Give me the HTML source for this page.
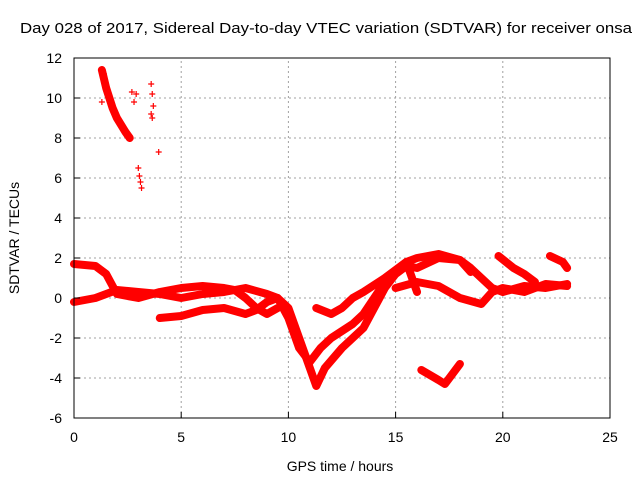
<!DOCTYPE html>
<html><head><meta charset="utf-8"><style>
body{margin:0;background:#fff}
svg{font-family:"Liberation Sans",sans-serif}
</style></head><body>
<svg id="c" width="640" height="480" xmlns="http://www.w3.org/2000/svg">
<rect width="640" height="480" fill="#fff"/>
<text x="20" y="33" font-size="15" textLength="612" lengthAdjust="spacingAndGlyphs">Day 028 of 2017, Sidereal Day-to-day VTEC variation (SDTVAR) for receiver onsa</text>
<text x="340" y="471" font-size="14" text-anchor="middle">GPS time / hours</text>
<text transform="translate(19,238) rotate(-90)" font-size="14" text-anchor="middle">SDTVAR / TECUs</text>
<g id="grid"></g><g id="marks"></g><g id="axes"></g>
</svg>
<script>
const xTicks=[0,5,10,15,20,25];
const yTicks=[-6,-4,-2,0,2,4,6,8,10,12];
const trackA=[[0,1.7],[1,1.6],[1.5,1.2],[2,0.2],[3,0],[4,0.3],[5,0.5],[6,0.6],[7,0.5],[7.5,0.4],[8,0],[8.5,-0.5],[9,-0.8],[9.5,-0.5]];
const trackB=[[0,-0.2],[1,0],[2,0.4],[3,0.3],[4,0.2],[5,0],[6,0.2],[7,0.3],[8,0.5],[9,0.2],[9.5,0],[10,-0.5],[10.5,-2],[11,-3.5],[11.3,-4.4],[11.7,-3.5],[12.5,-2.5],[13.5,-1.5],[14,-0.5],[14.5,0.5],[15,1.2],[15.5,1.6],[16,1.5],[17,2],[18,1.9],[18.5,1.5],[19,1],[19.5,0.5],[20,0.3],[21,0.6],[22,0.5],[23,0.7]];
const trackC=[[4,-1],[5,-0.9],[6,-0.6],[7,-0.5],[8,-0.8],[8.5,-0.6],[9,-0.2],[9.5,0],[10,-1],[10.5,-2.5],[11,-3.2],[11.5,-2.5],[12,-2],[13,-1.3],[13.5,-0.8],[14,0],[14.5,0.8],[15,1.3],[15.5,1.8],[16,0.3]];
const trackD=[[11.3,-0.5],[12,-0.8],[12.5,-0.5],[13,0],[13.5,0.3],[14.5,1],[15,1.4],[15.5,1.8],[16,2],[17,2.2],[18,1.9],[18.5,1.3]];
const trackE=[[15,0.5],[16,0.8],[17,0.6],[18,0],[19,-0.3],[19.5,0.3],[20,0.5],[21,0.3],[22,0.7],[23,0.6]];
const trackF1=[[19.8,2.1],[20.5,1.5],[21,1.2],[21.5,0.8]];
const trackF2=[[22.2,2.1],[22.8,1.8],[23,1.5]];
const trackG=[[16.2,-3.6],[17,-4.1],[17.3,-4.3],[18,-3.3]];
const trackH1=[[1.3,11.4],[1.5,10.5],[1.8,9.5],[2,9],[2.4,8.3],[2.6,8]];
const scatter=[[1.3,9.8],[1.4,11.2],[2.7,10.3],[2.9,10.2],[2.8,9.8],[3.0,6.5],[3.05,6.1],[3.1,5.8],[3.15,5.5],[3.6,10.7],[3.65,10.2],[3.7,9.6],[3.6,9.2],[3.65,9],[3.95,7.3]];
const X0=74,X1=610,Y0=418,Y1=58;
const sx=v=>X0+(v-0)/25*(X1-X0);
const sy=v=>Y0-(v+6)/18*(Y0-Y1);
const NS="http://www.w3.org/2000/svg";
const mk=(p,t,a)=>{const e=document.createElementNS(NS,t);for(const k in a)e.setAttribute(k,a[k]);p.appendChild(e);return e;};
const grid=document.getElementById('grid'),axes=document.getElementById('axes'),marks=document.getElementById('marks');
xTicks.forEach(t=>{
 if(t>0&&t<25){const l=mk(grid,'line',{x1:sx(t),x2:sx(t),y1:Y0,y2:Y1,stroke:'#a0a0a0','stroke-dasharray':'2,3'});
 
 }
 const tx=mk(axes,'text',{x:sx(t),y:Y0+24,'font-size':14,'text-anchor':'middle'});tx.textContent=t;
 
 
 mk(axes,'line',{x1:sx(t),x2:sx(t),y1:Y0,y2:Y0-6,stroke:'#000'});
});
yTicks.forEach(t=>{
 if(t>-6&&t<12){const l=mk(grid,'line',{x1:X0,x2:X1,y1:sy(t),y2:sy(t),stroke:'#a0a0a0','stroke-dasharray':'2,3'});
 
 }
 const tx=mk(axes,'text',{x:X0-12,y:sy(t)+5,'font-size':14,'text-anchor':'end'});tx.textContent=t;
 
 
 mk(axes,'line',{x1:X0,x2:X0+6,y1:sy(t),y2:sy(t),stroke:'#000'});
});
const b=mk(axes,'rect',{x:X0,y:Y1,width:X1-X0,height:Y0-Y1,fill:'none',stroke:'#000'});


[[trackA,'track-a'],[trackB,'track-b'],[trackC,'track-c'],[trackD,'track-d'],[trackE,'track-e'],[trackF1,'track-f1'],[trackF2,'track-f2'],[trackG,'track-g'],[trackH1,'track-h1']].forEach(([d,n])=>{
 const p=mk(marks,'polyline',{points:d.map(q=>sx(q[0])+','+sy(q[1])).join(' '),fill:'none',stroke:'#ff0000','stroke-width':8,'stroke-linejoin':'round','stroke-linecap':'round'});
 
 
});
scatter.forEach(q=>{
 const x=sx(q[0]),y=sy(q[1]);
 const p=mk(marks,'path',{d:`M${x-3},${y}H${x+3}M${x},${y-3}V${y+3}`,stroke:'#ff0000','stroke-width':1.2});
 
 
});
</script>
</body></html>
